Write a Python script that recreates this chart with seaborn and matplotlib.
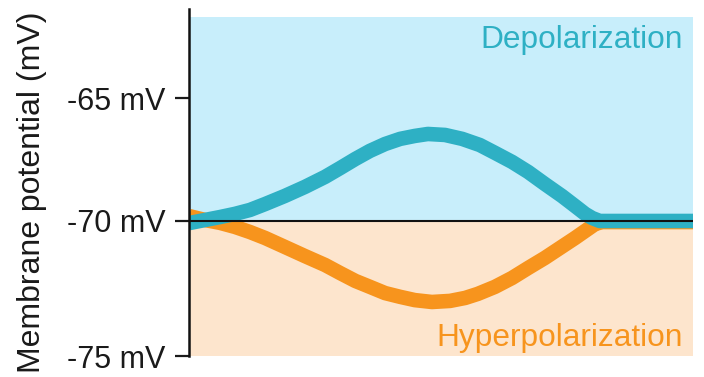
import numpy as np
import pandas as pd
import matplotlib
matplotlib.use("Agg")
import matplotlib.pyplot as plt
import seaborn as sns

# ---- data (time in arbitrary units 0..100, potential in mV) ----
depol_t = [0, 3.17, 6.15, 9.13, 12.1, 15.1, 19.0, 23.0, 27.0, 30.0, 33.0, 35.9, 38.9, 41.9,
           44.8, 47.4, 50.8, 54.2, 57.7, 60.7, 64.1, 67.3, 70.6, 74.0, 76.6, 78.6, 80.0, 81.5, 100]
depol_v = [-70.08, -69.96, -69.84, -69.71, -69.55, -69.31, -68.98, -68.61, -68.20, -67.84,
           -67.47, -67.14, -66.86, -66.65, -66.53, -66.45, -66.49, -66.65, -66.90, -67.22,
           -67.59, -68.00, -68.49, -68.98, -69.39, -69.71, -69.88, -70.0, -70.0]
hyper_t = [0, 3.17, 6.15, 9.13, 12.1, 15.1, 19.0, 23.0, 27.0, 30.0, 33.0, 35.9, 38.9, 41.9,
           44.8, 48.2, 51.8, 54.8, 57.3, 60.7, 64.1, 67.3, 70.6, 73.6, 76.6, 78.6, 80.6, 82.0, 100]
hyper_v = [-69.80, -69.96, -70.07, -70.22, -70.41, -70.63, -70.96, -71.30, -71.63, -71.93,
           -72.22, -72.44, -72.67, -72.81, -72.93, -73.00, -72.96, -72.85, -72.70, -72.44,
           -72.11, -71.74, -71.37, -71.00, -70.63, -70.37, -70.11, -70.04, -70.04]
tick_values = [-75, -70, -65]
tick_labels = ["-75 mV", "-70 mV", "-65 mV"]
resting = -70
y_bottom, y_top = -75, -61.35
depol_fill_top = -61.67
label_depol = "Depolarization"
label_hyper = "Hyperpolarization"
ylabel = "Membrane potential (mV)"

BLUE = "#2EB0C4"
ORANGE = "#F7941D"
BLUE_FILL = "#C8EEFB"
ORANGE_FILL = "#FDE5CD"

sns.set_style("white")
plt.rcParams["font.family"] = ["Liberation Sans", "DejaVu Sans"]

df = pd.concat([
    pd.DataFrame({"t": hyper_t, "v": hyper_v, "kind": "hyper"}),
    pd.DataFrame({"t": depol_t, "v": depol_v, "kind": "depol"}),
])

fig = plt.figure(figsize=(7.04, 3.77), dpi=100)
ax = fig.add_axes([189 / 704, 1 - 356 / 377, 504 / 704, 347 / 377])

def fwd(y):
    y = np.asarray(y, dtype=float)
    return np.where(y < -70, (y + 70) * 27 / 24.5, y + 70)

def inv(v):
    v = np.asarray(v, dtype=float)
    return np.where(v < 0, v * 24.5 / 27 - 70, v - 70)

ax.set_yscale("function", functions=(fwd, inv))

xs = [0, 100]
ax.fill_between(xs, [resting, resting], [depol_fill_top, depol_fill_top], color=BLUE_FILL, lw=0, zorder=0)
ax.fill_between(xs, [y_bottom, y_bottom], [resting, resting], color=ORANGE_FILL, lw=0, zorder=0)

sns.lineplot(data=df, x="t", y="v", hue="kind", palette={"hyper": ORANGE, "depol": BLUE},
             hue_order=["hyper", "depol"], linewidth=10.5, legend=False, ax=ax,
             sort=False, estimator=None)
for ln in ax.get_lines():
    ln.set_solid_capstyle("butt")
    ln.set_solid_joinstyle("round")
    ln.set_zorder(2)

ax.axhline(resting, color="#111111", lw=1.5, zorder=3)

ax.text(98.0, -62.94, label_depol, color=BLUE, fontsize=22.8, ha="right", va="baseline", zorder=4)
ax.text(98.0, -74.63, label_hyper, color=ORANGE, fontsize=22.8, ha="right", va="baseline", zorder=4)

ax.set_xlim(0, 100)
ax.set_ylim(y_bottom, y_top)
ax.set_yticks(tick_values)
ax.set_yticklabels(tick_labels)
ax.set_xticks([])
ax.yaxis.set_minor_locator(matplotlib.ticker.NullLocator())
ax.tick_params(axis="y", which="major", left=True, length=10, width=1.6, pad=7,
               labelsize=22, colors="#1a1a1a", labelcolor="#1a1a1a")
ax.set_xlabel("")
ax.set_ylabel(ylabel, fontsize=23, color="#1a1a1a")
ax.yaxis.set_label_coords(-0.282, 0.4726)

for s in ["top", "right", "bottom"]:
    ax.spines[s].set_visible(False)
ax.spines["left"].set_linewidth(1.8)
ax.spines["left"].set_color("#111111")
ax.set_facecolor("none")

fig.savefig("out.png", dpi=100)
